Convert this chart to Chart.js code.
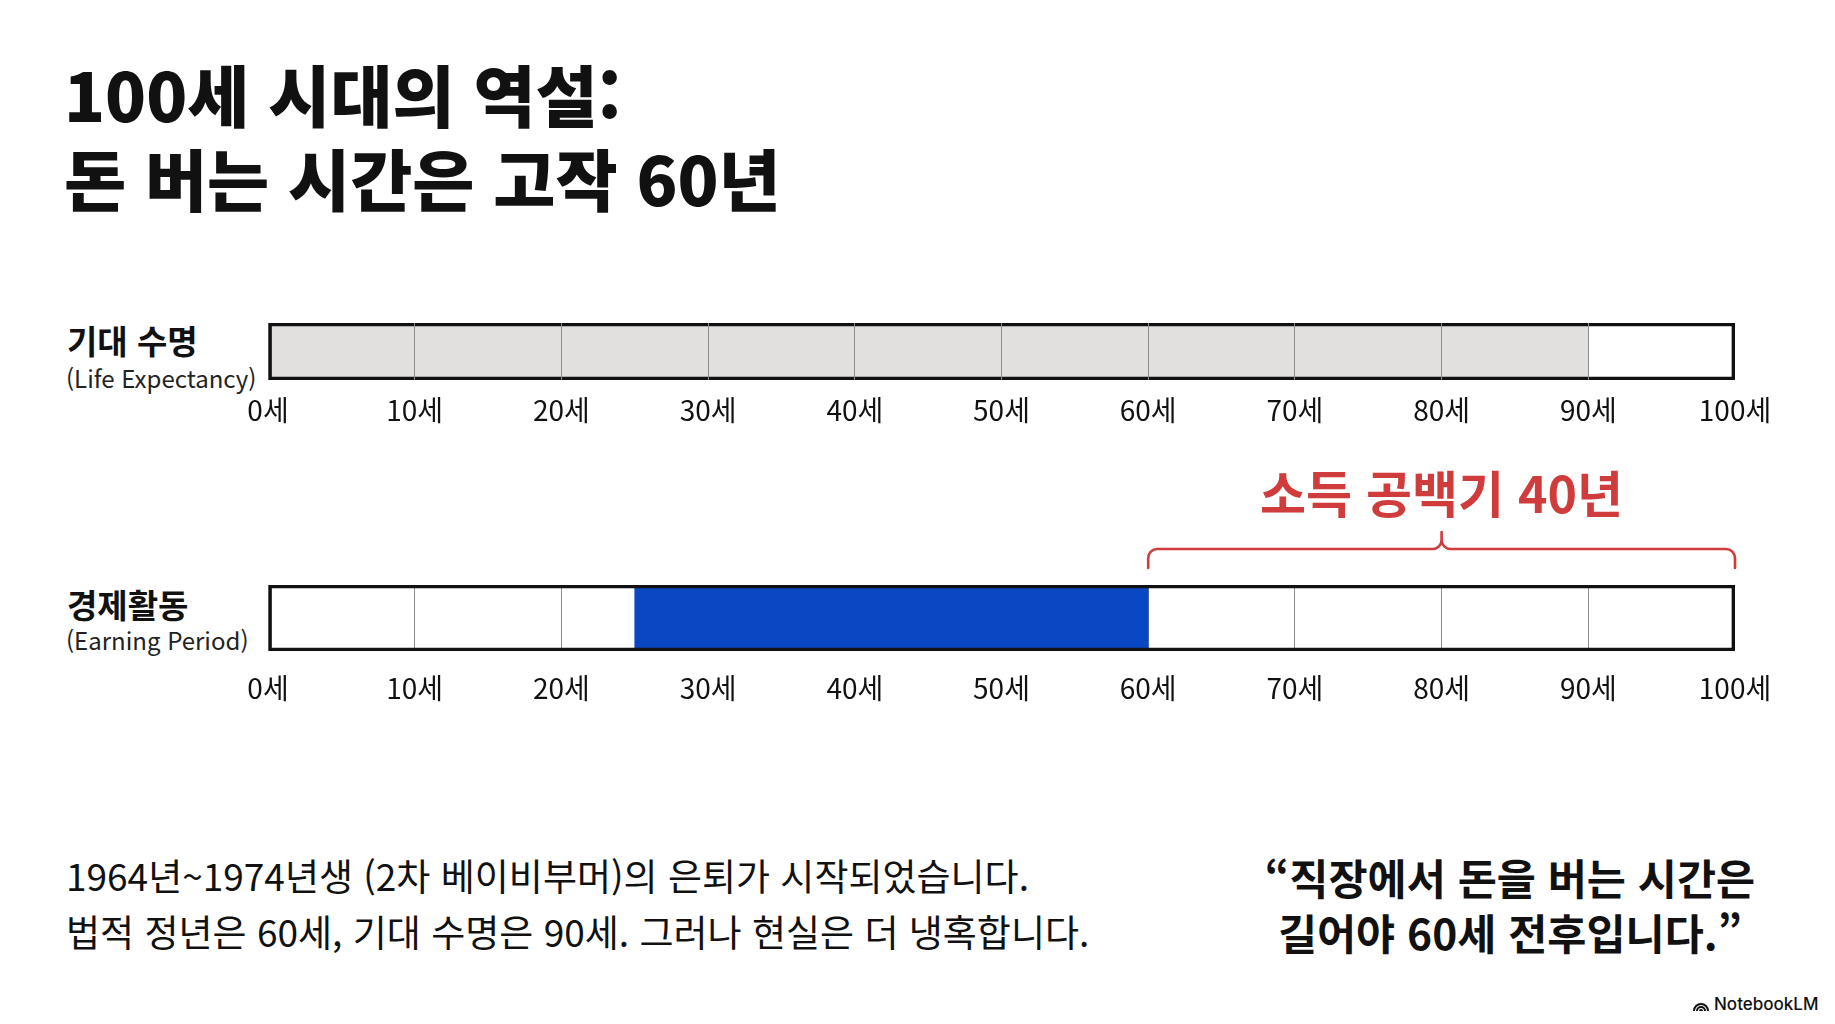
<!DOCTYPE html>
<html lang="ko">
<head>
<meta charset="utf-8">
<title>100세 시대의 역설</title>
<script src="https://cdn.jsdelivr.net/npm/chart.js@4.4.1/dist/chart.umd.min.js"></script>
<style>
  html, body { margin: 0; padding: 0; background: #fff; }
  body {
    width: 1835px; height: 1024px; position: relative; overflow: hidden;
    font-family: "Noto Sans CJK KR", "Noto Sans", sans-serif; color: #111;
  }
  .abs { position: absolute; white-space: nowrap; }
  .title { left: 64px; top: 51px; font-size: 67.5px; line-height: 84px; font-weight: 800; letter-spacing: 0; }
  .rowName { font-size: 33px; line-height: 36px; font-weight: 700; left: 67px; }
  .rowSub { font-size: 24px; line-height: 28px; font-weight: 400; left: 66px; color: #222; }
  .note { left: 66px; top: 847px; font-size: 37px; line-height: 56px; font-weight: 400; letter-spacing: 0; }
  .quote { left: 1200px; width: 620px; top: 849px; font-size: 42.5px; line-height: 55px; font-weight: 700; text-align: center; }
  .gap { font-size: 50px; line-height: 56px; font-weight: 700; color: #d03b3b; transform: translateX(-50%); }
  .mark { left: 1692px; top: 994px; font-size: 17px; line-height: 20px; font-weight: 500; font-family: "Inter", "Noto Sans", sans-serif; }
  .mark svg { vertical-align: -2px; margin-right: 4px; }
  .box { position: absolute; }
</style>
</head>
<body>

<div class="abs title">100세 시대의 역설:<br>돈 버는 시간은 고작 60년</div>

<div class="abs rowName" style="top:322px">기대 수명</div>
<div class="abs rowSub" style="top:364px">(Life Expectancy)</div>
<div class="abs rowName" style="top:586px">경제활동</div>
<div class="abs rowSub" style="top:626px">(Earning Period)</div>

<div class="box" style="left:208px; top:323px; width:1587px; height:122px;"><canvas id="lifeChart"></canvas></div>
<div class="box" style="left:208px; top:460px; width:1587px; height:265px;"><canvas id="earnChart"></canvas></div>
<div class="abs gap" id="gapText"></div>

<div class="abs note">1964년~1974년생 (2차 베이비부머)의 은퇴가 시작되었습니다.<br>법적 정년은 60세, 기대 수명은 90세. 그러나 현실은 더 냉혹합니다.</div>
<div class="abs quote">“직장에서 돈을 버는 시간은<br>길어야 60세 전후입니다.”</div>

<div class="abs mark"><svg width="18" height="15" viewBox="0 0 18 15"><path d="M2 14 A7 7 0 0 1 16 14 M5 14 A4 4 0 0 1 13 14 M8 14 A1 1 0 0 1 10 14" fill="none" stroke="#111" stroke-width="2"/></svg>NotebookLM</div>

<script>
// data
const ageMin = 0;
const ageMax = 100;
const ageStep = 10;
const ageUnit = '세';
const lifeRow = ['기대 수명'];
const lifeExpectancy = [0, 90];
const earnRow = ['경제활동'];
const earningPeriod = [25, 60];
const gapRange = [60, 100];
const gapLabel = '소득 공백기 40년';

const tickFont = { family: '"Noto Sans CJK KR", sans-serif', size: 28, weight: 400 };

function axisX(padding, gridOnTop) {
    return {
        type: 'linear',
        min: ageMin,
        max: ageMax,
        border: { display: false },
        grid: {
            z: gridOnTop ? 1 : 0,
            drawTicks: false,
            lineWidth: 1,
            color: ctx => (ctx.tick && (ctx.tick.value === ageMin || ctx.tick.value === ageMax)) ? 'rgba(0,0,0,0)' : '#8c8c8c'
        },
        ticks: {
            stepSize: ageStep,
            padding: padding,
            color: '#111',
            font: tickFont,
            callback: v => v + ageUnit
        }
    };
}

function barOptions(padTop, tickPad, gridOnTop) {
    return {
        indexAxis: 'y',
        responsive: true,
        maintainAspectRatio: false,
        animation: false,
        layout: { padding: { left: 60, right: 60, top: padTop, bottom: 8 } },
        plugins: { legend: { display: false }, tooltip: { enabled: false } },
        scales: {
            x: axisX(tickPad, gridOnTop),
            y: { display: false }
        }
    };
}

function outline(label) {
    return {
        label: label,
        data: [[ageMin, ageMax]],
        grouped: false,
        backgroundColor: 'rgba(0,0,0,0)',
        borderColor: '#111',
        borderWidth: 3,
        borderSkipped: false,
        categoryPercentage: 1,
        barPercentage: 1
    };
}

new Chart(document.getElementById('lifeChart'), {
    type: 'bar',
    data: {
        labels: lifeRow,
        datasets: [
            outline('전체'),
            {
                label: '기대 수명',
                data: [lifeExpectancy],
                grouped: false,
                backgroundColor: '#e2e0df',
                borderWidth: 0,
                categoryPercentage: 1,
                barPercentage: 1
            }
        ]
    },
    options: barOptions(0, 14, true)
});

const bracePlugin = {
    id: 'gapBrace',
    afterDraw(chart) {
        const { ctx, chartArea, scales: { x } } = chart;
        const x1 = x.getPixelForValue(gapRange[0]);
        const x2 = x.getPixelForValue(gapRange[1]);
        const xm = (x1 + x2) / 2;
        const yEnd = chartArea.top - 17;
        const yLine = chartArea.top - 36;
        const yPeak = chartArea.top - 53;
        const r = 9;
        ctx.save();
        ctx.strokeStyle = '#d03b3b';
        ctx.lineWidth = 2.6;
        ctx.lineCap = 'round';
        ctx.beginPath();
        ctx.moveTo(x1, yEnd);
        ctx.arcTo(x1, yLine, x1 + r, yLine, r);
        ctx.lineTo(xm - r, yLine);
        ctx.arcTo(xm, yLine, xm, yLine - r, r);
        ctx.lineTo(xm, yPeak);
        ctx.moveTo(xm, yLine - r);
        ctx.arcTo(xm, yLine, xm + r, yLine, r);
        ctx.lineTo(x2 - r, yLine);
        ctx.arcTo(x2, yLine, x2, yLine + r, r);
        ctx.lineTo(x2, yEnd);
        ctx.stroke();
        ctx.restore();
    }
};

const earnChart = new Chart(document.getElementById('earnChart'), {
    type: 'bar',
    data: {
        labels: earnRow,
        datasets: [
            outline('전체'),
            {
                label: '경제활동',
                data: [earningPeriod],
                grouped: false,
                backgroundColor: '#0a47c2',
                borderWidth: 0,
                categoryPercentage: 1,
                barPercentage: 1
            }
        ]
    },
    options: barOptions(125, 21, false),
    plugins: [bracePlugin]
});

// gap label placed from the chart's own scale
const gap = document.getElementById('gapText');
gap.textContent = gapLabel;
const box = earnChart.canvas.parentNode;
const midX = earnChart.scales.x.getPixelForValue((gapRange[0] + gapRange[1]) / 2);
gap.style.left = (box.offsetLeft + midX) + 'px';
gap.style.top = (box.offsetTop + earnChart.chartArea.top - 85 - 28 - 9) + 'px';
</script>
</body>
</html>
